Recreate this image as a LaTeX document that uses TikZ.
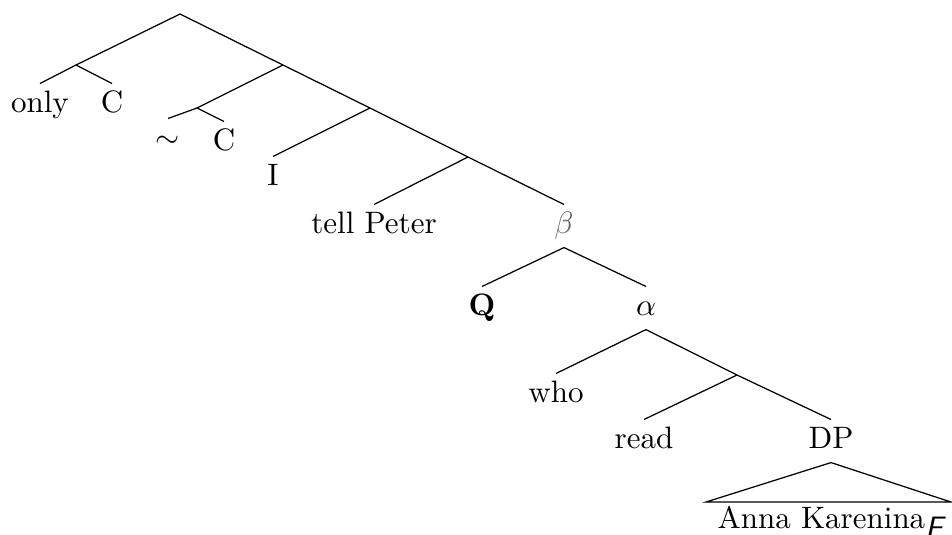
\documentclass[tikz,border=0pt]{standalone}
\begin{document}
\begin{tikzpicture}[x=0.3226pt,y=-0.3226pt,
  lbl/.style={anchor=base,inner sep=2.5pt,text height=6.5pt,text depth=2pt,font=\fontsize{10}{12}\selectfont},
  branch/.style={line width=0.4pt}]
\useasboundingbox (0,0) rectangle (952,534);

% internal branching points
\coordinate (r)  at (180,14);
\coordinate (n1) at (76,65);
\coordinate (n2) at (283,65);
\coordinate (n3) at (197,108);
\coordinate (n4) at (370,108);
\coordinate (n5) at (468,157);
\coordinate (n6) at (737,375);

% leaves and labelled nodes
\node[lbl] (only)  at (40,112)  {only};
\node[lbl] (c1)    at (112,112) {C};
\node[lbl] (tilde) at (168,147) {$\sim$};
\node[lbl] (c2)    at (224,150) {C};
\node[lbl] (i)     at (273,185) {I};
\node[lbl] (tell)  at (374,233) {tell Peter};
\node[lbl,text=black!60] (beta) at (564,233) {$\beta$};
\node[lbl] (q)     at (482,315) {\textbf{Q}};
\node[lbl] (alpha) at (646,315) {$\alpha$};
\node[lbl] (who)   at (556,402) {who};
\node[lbl] (read)  at (644,448) {read};
\node[lbl] (dp)    at (831,448) {DP};
\node[lbl] (ak)    at (831,528) {Anna Karenina$_{\textsf{\slshape F}}$};

% roof corners
\coordinate (tl) at (706,502);
\coordinate (tr) at (951,502);

% branches
\draw[branch] (r) -- (n1);
\draw[branch] (r) -- (n2);
\draw[branch] (n1) -- (only.north);
\draw[branch] (n1) -- (c1.north);
\draw[branch] (n2) -- (n3);
\draw[branch] (n2) -- (n4);
\draw[branch] (n3) -- (tilde.north -| 168,0);
\draw[branch] (n3) -- (c2.north);
\draw[branch] (n4) -- (i.north);
\draw[branch] (n4) -- (n5);
\draw[branch] (n5) -- (tell.north);
\draw[branch] (n5) -- (beta.north);
\draw[branch] (beta.south) -- (q.north);
\draw[branch] (beta.south) -- (alpha.north);
\draw[branch] (alpha.south) -- (who.north);
\draw[branch] (alpha.south) -- (n6);
\draw[branch] (n6) -- (read.north);
\draw[branch] (n6) -- (dp.north);
\draw[branch] (dp.south) -- (tl) -- (tr) -- cycle;
\end{tikzpicture}
\end{document}
